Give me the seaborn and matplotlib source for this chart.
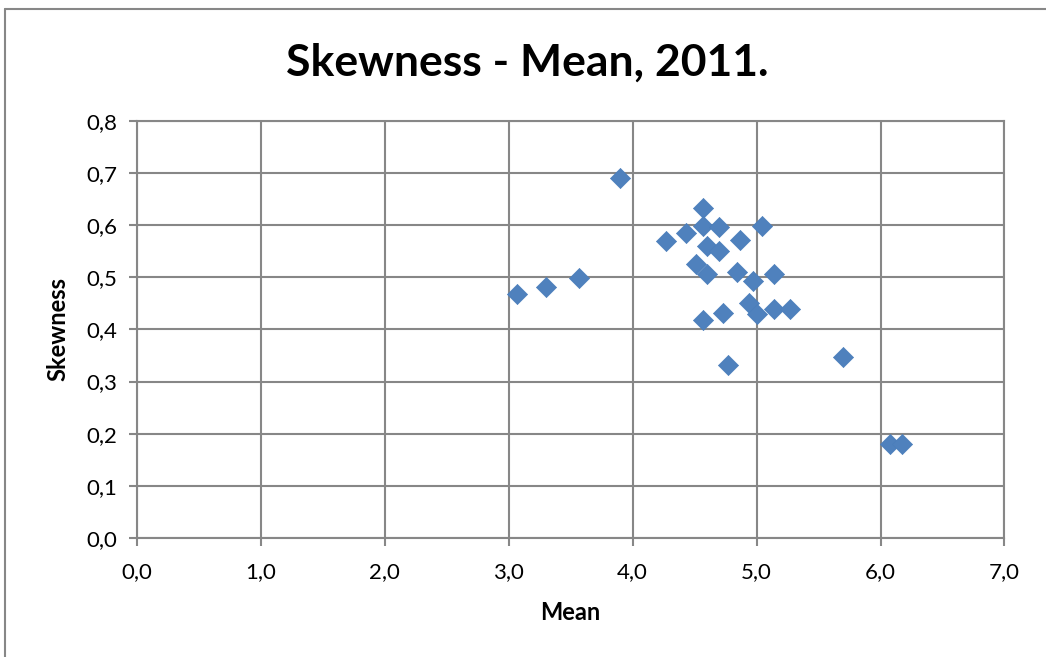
import numpy as np
import pandas as pd
import seaborn as sns
import matplotlib.pyplot as plt
from matplotlib.lines import Line2D
from matplotlib.ticker import MultipleLocator, FuncFormatter

# mean and skewness values
mean = [3.07, 3.30, 3.57, 3.90,
        4.57, 4.57, 4.70, 5.04, 4.27, 4.43, 4.87, 4.60, 4.70, 4.51,
        4.60, 4.84, 5.14, 4.97, 4.94, 5.00, 5.14, 5.27, 4.73, 4.57, 4.77,
        5.70, 6.08, 6.17]
skewness = [0.467, 0.481, 0.498, 0.691,
            0.633, 0.598, 0.596, 0.598, 0.570, 0.584, 0.571, 0.559, 0.550, 0.526,
            0.507, 0.510, 0.507, 0.493, 0.451, 0.429, 0.440, 0.440, 0.432, 0.418, 0.332,
            0.347, 0.181, 0.181]

df = pd.DataFrame({"Mean": mean, "Skewness": skewness})

sns.set_style("white")
plt.rcParams["font.family"] = ["Lato", "DejaVu Sans"]

fig = plt.figure(figsize=(10.46, 6.57), dpi=100)
ax = fig.add_axes([0.1307, 0.181, 0.8296, 0.6353])

grid_col = "#878787"
sns.scatterplot(data=df, x="Mean", y="Skewness", ax=ax, marker="D", s=105,
                color="#4F81BD", edgecolor="#4A7EBB", linewidth=0.5, zorder=3)

ax.set_xlim(0, 7)
ax.set_ylim(0, 0.8)
ax.xaxis.set_major_locator(MultipleLocator(1))
ax.yaxis.set_major_locator(MultipleLocator(0.1))
ax.xaxis.set_major_formatter(FuncFormatter(lambda v, p: f"{v:.1f}".replace(".", ",")))
ax.yaxis.set_major_formatter(FuncFormatter(lambda v, p: f"{v:.1f}".replace(".", ",")))
ax.grid(True, color=grid_col, linewidth=1.5)
for s in ax.spines.values():
    s.set_color(grid_col)
    s.set_linewidth(1.5)
ax.tick_params(axis="both", direction="out", length=6, width=1.5, color=grid_col,
               labelsize=16, labelcolor="black", pad=8, bottom=True, left=True)
ax.tick_params(axis="x", pad=11)

ax.set_xlabel("Mean", fontsize=17, fontweight="bold", labelpad=14, color="black")
ax.set_ylabel("Skewness", fontsize=17, fontweight="bold", labelpad=12, color="black")
fig.text(0.504, 0.905, "Skewness - Mean, 2011.", fontsize=32, fontweight="bold",
         ha="center", va="center", color="black")

# chart area border (top and left visible)
fig.add_artist(Line2D([0.0048, 0.0048], [0, 0.9863], color=grid_col, linewidth=1.5,
                      transform=fig.transFigure))
fig.add_artist(Line2D([0.0048, 1], [0.9863, 0.9863], color=grid_col, linewidth=1.5,
                      transform=fig.transFigure))

fig.savefig("out.png", dpi=100)
